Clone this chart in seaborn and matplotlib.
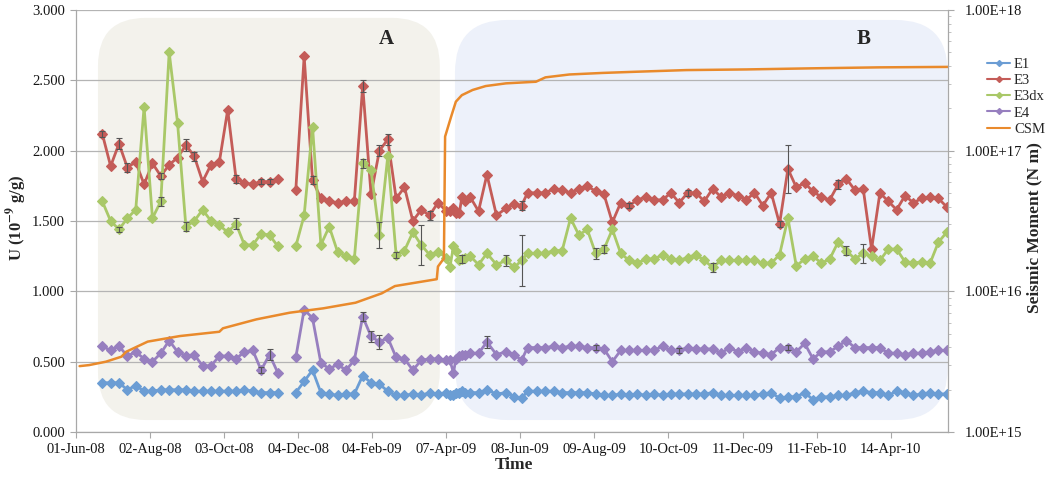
import matplotlib
matplotlib.use("Agg")
import matplotlib.pyplot as plt
from matplotlib.patches import FancyBboxPatch
from matplotlib.lines import Line2D
from matplotlib.ticker import FixedLocator, FixedFormatter, LogLocator, NullFormatter, FormatStrFormatter
import numpy as np
import pandas as pd
import seaborn as sns

# ---------------- data ----------------
dates = [
    # campaign A (first block)
    "2008-06-23", "2008-06-30", "2008-07-07", "2008-07-14", "2008-07-21", "2008-07-28",
    "2008-08-04", "2008-08-11", "2008-08-18", "2008-08-25", "2008-09-01", "2008-09-08",
    "2008-09-15", "2008-09-22", "2008-09-29", "2008-10-06", "2008-10-13", "2008-10-20",
    "2008-10-27", "2008-11-03", "2008-11-10", "2008-11-17",
    # second block
    "2008-12-02", "2008-12-09", "2008-12-16", "2008-12-23", "2008-12-30", "2009-01-06",
    "2009-01-13", "2009-01-20", "2009-01-27", "2009-02-03", "2009-02-10", "2009-02-17",
    "2009-02-24", "2009-03-03", "2009-03-10", "2009-03-17", "2009-03-24", "2009-03-31",
    "2009-04-07",
    "2009-04-10", "2009-04-13", "2009-04-15", "2009-04-18", "2009-04-20", "2009-04-23",
    "2009-04-27",
    "2009-05-04", "2009-05-11", "2009-05-19", "2009-05-27", "2009-06-03", "2009-06-09",
    "2009-06-14",
    "2009-06-22", "2009-06-29", "2009-07-06", "2009-07-13", "2009-07-20", "2009-07-27",
    "2009-08-03", "2009-08-10", "2009-08-17", "2009-08-24", "2009-08-31", "2009-09-07",
    "2009-09-14", "2009-09-21", "2009-09-28", "2009-10-05", "2009-10-12", "2009-10-19",
    "2009-10-26", "2009-11-02", "2009-11-09", "2009-11-16", "2009-11-23", "2009-11-30",
    "2009-12-07", "2009-12-14", "2009-12-21", "2009-12-28", "2010-01-04", "2010-01-11",
    "2010-01-18", "2010-01-25", "2010-02-01", "2010-02-08", "2010-02-15", "2010-02-22",
    "2010-03-01", "2010-03-08", "2010-03-15", "2010-03-22", "2010-03-29", "2010-04-05",
    "2010-04-12", "2010-04-19", "2010-04-26", "2010-05-03", "2010-05-10", "2010-05-17",
    "2010-05-24", "2010-05-31",
]

E1 = [
    0.35, 0.35, 0.35, 0.30, 0.33, 0.29, 0.29, 0.30, 0.30, 0.30, 0.30, 0.29, 0.29, 0.29,
    0.29, 0.29, 0.29, 0.30, 0.29, 0.28, 0.28, 0.28,
    0.28, 0.36, 0.44, 0.28, 0.27, 0.26, 0.27, 0.27, 0.40, 0.35, 0.34, 0.29, 0.26, 0.26,
    0.27, 0.26, 0.28, 0.27, 0.28,
    0.26, 0.26, 0.28, 0.28, 0.29, 0.28, 0.28,
    0.28, 0.30, 0.27, 0.28, 0.25, 0.24, 0.29,
    0.29, 0.29, 0.29, 0.28, 0.28, 0.28, 0.28, 0.27, 0.26, 0.26, 0.27, 0.26, 0.27, 0.26,
    0.27, 0.26, 0.27, 0.27, 0.27, 0.27, 0.27, 0.28, 0.26, 0.26, 0.26, 0.26, 0.26, 0.27,
    0.28, 0.24, 0.25, 0.25, 0.28, 0.23, 0.25, 0.25, 0.26, 0.26, 0.28, 0.29, 0.28, 0.28,
    0.26, 0.29, 0.28, 0.26, 0.27, 0.28, 0.27, 0.27,
]

E3 = [
    2.12, 1.89, 2.05, 1.88, 1.92, 1.76, 1.91, 1.82, 1.90, 1.95, 2.04, 1.96, 1.78, 1.90,
    1.92, 2.29, 1.80, 1.77, 1.76, 1.78, 1.78, 1.80,
    1.72, 2.67, 1.79, 1.66, 1.64, 1.63, 1.64, 1.64, 2.46, 1.69, 2.00, 2.08, 1.66, 1.74,
    1.50, 1.58, 1.54, 1.63, 1.57,
    1.57, 1.59, 1.56, 1.56, 1.67, 1.64, 1.67,
    1.57, 1.83, 1.54, 1.59, 1.62, 1.61, 1.70,
    1.70, 1.70, 1.73, 1.72, 1.70, 1.73, 1.75, 1.71, 1.69, 1.49, 1.63, 1.61, 1.65, 1.67,
    1.65, 1.65, 1.70, 1.63, 1.70, 1.70, 1.64, 1.73, 1.67, 1.70, 1.68, 1.65, 1.70, 1.61,
    1.70, 1.48, 1.87, 1.74, 1.77, 1.71, 1.67, 1.65, 1.76, 1.80, 1.72, 1.73, 1.30, 1.70,
    1.64, 1.58, 1.68, 1.63, 1.66, 1.67, 1.66, 1.60,
]

E3dx = [
    1.64, 1.50, 1.44, 1.52, 1.58, 2.31, 1.52, 1.64, 2.70, 2.20, 1.46, 1.50, 1.58, 1.50,
    1.47, 1.42, 1.48, 1.33, 1.33, 1.41, 1.40, 1.32,
    1.32, 1.54, 2.17, 1.33, 1.46, 1.28, 1.25, 1.23, 1.91, 1.86, 1.40, 1.96, 1.26, 1.29,
    1.42, 1.33, 1.26, 1.28, 1.24,
    1.17, 1.32, 1.29, 1.22, 1.23, 1.24, 1.25,
    1.19, 1.27, 1.19, 1.22, 1.17, 1.22, 1.27,
    1.27, 1.27, 1.29, 1.29, 1.52, 1.40, 1.44, 1.27, 1.30, 1.44, 1.27, 1.22, 1.20, 1.23,
    1.23, 1.26, 1.23, 1.22, 1.24, 1.26, 1.22, 1.17, 1.22, 1.22, 1.22, 1.22, 1.22, 1.20,
    1.20, 1.26, 1.52, 1.18, 1.23, 1.25, 1.20, 1.23, 1.35, 1.29, 1.23, 1.27, 1.25, 1.22,
    1.30, 1.30, 1.21, 1.20, 1.21, 1.20, 1.35, 1.42,
]

E4 = [
    0.61, 0.58, 0.61, 0.54, 0.57, 0.52, 0.50, 0.56, 0.65, 0.57, 0.54, 0.55, 0.47, 0.47,
    0.54, 0.54, 0.52, 0.57, 0.58, 0.44, 0.55, 0.42,
    0.53, 0.87, 0.81, 0.49, 0.45, 0.48, 0.44, 0.51, 0.82, 0.68, 0.64, 0.67, 0.53, 0.52,
    0.44, 0.51, 0.52, 0.52, 0.51,
    0.51, 0.42, 0.52, 0.54, 0.55, 0.55, 0.56,
    0.56, 0.64, 0.55, 0.57, 0.55, 0.51, 0.60,
    0.60, 0.60, 0.61, 0.60, 0.61, 0.61, 0.60, 0.60, 0.59, 0.50, 0.58, 0.58, 0.58, 0.58,
    0.58, 0.61, 0.58, 0.58, 0.60, 0.59, 0.59, 0.59, 0.56, 0.60, 0.57, 0.60, 0.57, 0.56,
    0.55, 0.60, 0.60, 0.57, 0.63, 0.52, 0.57, 0.57, 0.61, 0.65, 0.60, 0.60, 0.60, 0.60,
    0.56, 0.56, 0.55, 0.56, 0.56, 0.57, 0.58, 0.58,
]

# error bars (date -> half-width) where they are visible
E3_err = {"2008-06-23": 0.02, "2008-07-07": 0.04, "2008-07-14": 0.03, "2008-08-11": 0.02,
          "2008-09-01": 0.04, "2008-09-08": 0.03, "2008-10-13": 0.03, "2008-11-03": 0.02,
          "2008-11-10": 0.02, "2008-12-16": 0.03, "2009-01-27": 0.04, "2009-02-10": 0.04,
          "2009-02-17": 0.04, "2009-03-24": 0.03, "2009-06-09": 0.03, "2009-09-07": 0.02,
          "2009-10-26": 0.02, "2010-01-11": 0.02, "2010-01-18": 0.17, "2010-03-01": 0.03}
E3dx_err = {"2008-07-07": 0.02, "2008-08-11": 0.03, "2008-09-01": 0.03, "2008-10-13": 0.04,
            "2009-01-27": 0.03, "2009-02-10": 0.09, "2009-02-24": 0.02, "2009-03-17": 0.14,
            "2009-04-20": 0.03, "2009-05-27": 0.04, "2009-06-09": 0.18, "2009-08-10": 0.04,
            "2009-08-17": 0.03, "2009-11-16": 0.03, "2010-03-08": 0.03, "2010-03-22": 0.07}
E4_err = {"2008-11-03": 0.02, "2008-11-10": 0.04, "2009-01-27": 0.03, "2009-02-03": 0.04,
          "2009-02-10": 0.05, "2009-05-11": 0.04, "2009-08-10": 0.02, "2009-10-19": 0.02,
          "2010-01-18": 0.02}

csm_dates = [
    "2008-06-04", "2008-06-12", "2008-06-26", "2008-07-09", "2008-07-13", "2008-07-28",
    "2008-07-31", "2008-08-27", "2008-09-29", "2008-10-02", "2008-10-30", "2008-11-27",
    "2008-12-25", "2009-01-21", "2009-02-12", "2009-02-23", "2009-03-30", "2009-03-31",
    "2009-04-04", "2009-04-05", "2009-04-06", "2009-04-11", "2009-04-15", "2009-04-20",
    "2009-04-29", "2009-05-10", "2009-05-27", "2009-06-21", "2009-06-29", "2009-07-19",
    "2009-08-16", "2009-09-13", "2009-10-25", "2009-12-14", "2010-02-08", "2010-04-04",
    "2010-06-01",
]
csm_values = [
    2.94e15, 2.99e15, 3.16e15, 3.43e15, 3.72e15, 4.27e15, 4.39e15, 4.81e15, 5.16e15,
    5.46e15, 6.32e15, 7.05e15, 7.57e15, 8.30e15, 9.68e15, 1.09e16, 1.22e16, 1.50e16,
    1.67e16, 1.70e16, 1.26e17, 1.74e17, 2.23e17, 2.48e17, 2.70e17, 2.88e17, 3.01e17,
    3.09e17, 3.32e17, 3.48e17, 3.57e17, 3.64e17, 3.74e17, 3.78e17, 3.85e17, 3.91e17,
    3.94e17,
]

tick_dates = ["2008-06-01", "2008-08-02", "2008-10-03", "2008-12-04", "2009-02-04",
              "2009-04-07", "2009-06-08", "2009-08-09", "2009-10-10", "2009-12-11",
              "2010-02-11", "2010-04-14"]
tick_labels = ["01-Jun-08", "02-Aug-08", "03-Oct-08", "04-Dec-08", "04-Feb-09",
               "07-Apr-09", "08-Jun-09", "09-Aug-09", "10-Oct-09", "11-Dec-09",
               "11-Feb-10", "14-Apr-10"]
u_ticks = [0.0, 0.5, 1.0, 1.5, 2.0, 2.5, 3.0]
sm_ticks = [1e15, 1e16, 1e17, 1e18]
sm_labels = ["1.00E+15", "1.00E+16", "1.00E+17", "1.00E+18"]

series_names = ["E1", "E3", "E3dx", "E4"]
colors = {"E1": "#6b9dd4", "E3": "#c45c58", "E3dx": "#a9c868", "E4": "#977fbf", "CSM": "#e98a2c"}

# ---------------- build frame ----------------
d = pd.to_datetime(pd.Series(dates))
segment = (d.diff() > pd.Timedelta(days=10)).cumsum()
frames = []
for name, vals in zip(series_names, [E1, E3, E3dx, E4]):
    frames.append(pd.DataFrame({"date": d, "value": vals, "series": name, "segment": segment}))
df = pd.concat(frames, ignore_index=True)

# ---------------- figure ----------------
sns.set_theme(style="white")
plt.rcParams["font.family"] = ["Liberation Serif", "DejaVu Serif"]
plt.rcParams["mathtext.fontset"] = "stix"

fig = plt.figure(figsize=(10.46, 4.78), dpi=100)
ax = fig.add_axes([76 / 1046, 46 / 478, 872 / 1046, 422 / 478])
ax.set_axisbelow(True)

# rounded background panels
aspect = 872 / 422
boxA = FancyBboxPatch((0.0252, 0.0284), 0.392, 0.953, boxstyle="round,pad=0,rounding_size=0.055",
                      mutation_aspect=aspect, transform=ax.transAxes, facecolor="#f3f2ec",
                      edgecolor="none", zorder=0.1)
boxB = FancyBboxPatch((0.4346, 0.0284), 0.565, 0.948, boxstyle="round,pad=0,rounding_size=0.06",
                      mutation_aspect=aspect, transform=ax.transAxes, facecolor="#edf1fa",
                      edgecolor="none", zorder=0.1)
ax.add_patch(boxA)
ax.add_patch(boxB)

sns.lineplot(data=df, x="date", y="value", hue="series", hue_order=series_names,
             units="segment", estimator=None, palette=colors, marker="D", markersize=5.2,
             linewidth=2.0, legend=False, ax=ax)
for ln in ax.lines:
    ln.set_markeredgecolor(ln.get_color())
    ln.set_markeredgewidth(0.8)

for name, vals, errs in [("E3", E3, E3_err), ("E3dx", E3dx, E3dx_err), ("E4", E4, E4_err)]:
    lookup = dict(zip(dates, vals))
    ex = pd.to_datetime(list(errs.keys()))
    ey = [lookup[k] for k in errs.keys()]
    ee = list(errs.values())
    ax.errorbar(ex, ey, yerr=ee, fmt="none", ecolor="#555555", elinewidth=0.8,
                capsize=2, capthick=0.8, zorder=3)

ax.set_ylim(0, 3)
ax.set_yticks(u_ticks)
ax.yaxis.set_major_formatter(FormatStrFormatter("%.3f"))
ax.set_xlim(pd.Timestamp("2008-06-01"), pd.Timestamp("2010-06-01"))
ax.set_xticks(pd.to_datetime(tick_dates))
ax.set_xticklabels(tick_labels)
ax.yaxis.grid(True, color="#b4b4b4", linewidth=0.9)
ax.xaxis.grid(False)
ax.set_xlabel("")
ax.set_ylabel("")
for s in ["top", "right"]:
    ax.spines[s].set_visible(False)
for s in ["left", "bottom"]:
    ax.spines[s].set_color("#a8a8a8")
    ax.spines[s].set_linewidth(0.9)
ax.tick_params(axis="both", which="major", bottom=True, left=True, length=4, width=0.8,
               color="#a8a8a8", labelsize=10.5, labelcolor="#151515")
ax.tick_params(axis="x", pad=4)
ax.tick_params(axis="y", pad=4)

# secondary log axis with cumulative seismic moment
ax2 = ax.twinx()
ax2.set_yscale("log")
sns.lineplot(x=pd.to_datetime(csm_dates), y=csm_values, color=colors["CSM"], linewidth=1.8,
             ax=ax2, legend=False)
ax2.set_ylim(1e15, 1e18)
ax2.yaxis.set_major_locator(FixedLocator(sm_ticks))
ax2.yaxis.set_major_formatter(FixedFormatter(sm_labels))
ax2.yaxis.set_minor_locator(LogLocator(base=10, subs=np.arange(2, 10)))
ax2.yaxis.set_minor_formatter(NullFormatter())
ax2.set_ylabel("")
for s in ["top", "left", "bottom"]:
    ax2.spines[s].set_visible(False)
ax2.spines["right"].set_color("#a8a8a8")
ax2.spines["right"].set_linewidth(0.9)
ax2.tick_params(axis="y", which="major", right=True, length=4, width=0.8, color="#a8a8a8",
                labelsize=10.5, labelcolor="#151515", pad=8)
ax2.tick_params(axis="y", which="minor", right=True, length=2.5, width=0.6, color="#b8b8b8")
ax2.set_xlim(pd.Timestamp("2008-06-01"), pd.Timestamp("2010-06-01"))

# labels
fig.text(17 / 1046, 1 - 218 / 478, "U (10$^{\\mathbf{-9}}$ g/g)", rotation=90, ha="center",
         va="center", fontsize=12, fontweight="bold")
fig.text(1034 / 1046, 1 - 228 / 478, "Seismic Moment (N m)", rotation=90, ha="center",
         va="center", fontsize=12.5, fontweight="bold")
fig.text(514 / 1046, 1 - 465 / 478, "Time", ha="center", va="center", fontsize=12.5,
         fontweight="bold")
fig.text(386 / 1046, 1 - 39 / 478, "A", ha="center", va="center", fontsize=15,
         fontweight="bold")
fig.text(864 / 1046, 1 - 39 / 478, "B", ha="center", va="center", fontsize=15,
         fontweight="bold")

# legend
handles = [Line2D([0], [0], color=colors[n], lw=1.5, marker="D", markersize=3,
                  markeredgecolor=colors[n]) for n in series_names]
handles.append(Line2D([0], [0], color=colors["CSM"], lw=1.5))
fig.legend(handles, series_names + ["CSM"], loc="upper left",
           bbox_to_anchor=(987 / 1046, 1 - 58 / 478), frameon=False, fontsize=10.5,
           handlelength=1.6, handletextpad=0.25, labelspacing=0.2, borderpad=0,
           borderaxespad=0)

fig.savefig("out.png", dpi=100)
